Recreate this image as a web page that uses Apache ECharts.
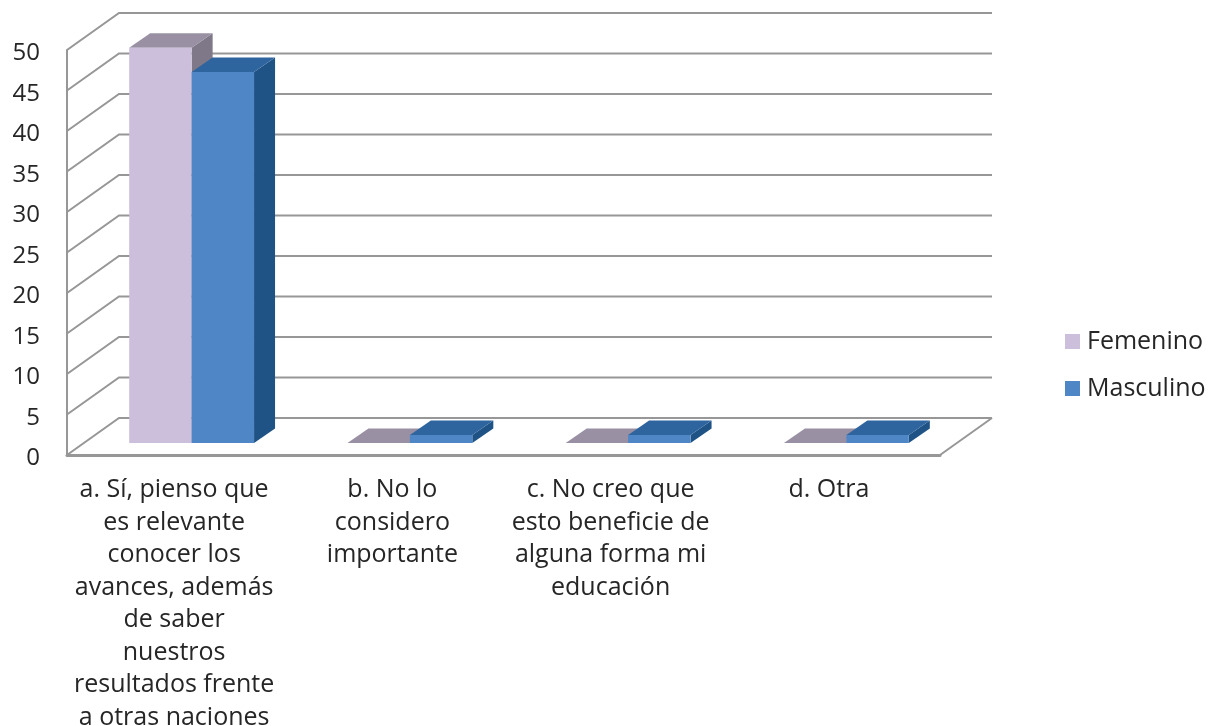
<!DOCTYPE html>
<html>
<head>
<meta charset="utf-8">
<style>
  html, body { margin: 0; padding: 0; background: #fff; }
  #main { width: 1209px; height: 726px; }
</style>
<script src="https://cdn.jsdelivr.net/npm/echarts@6/dist/echarts.min.js"></script>
</head>
<body>
<div id="main"></div>
<script>
var categories = [
  'a. Sí, pienso que\nes relevante\nconocer los\navances, además\nde saber\nnuestros\nresultados frente\na otras naciones',
  'b. No lo\nconsidero\nimportante',
  'c. No creo que\nesto beneficie de\nalguna forma mi\neducación',
  'd. Otra'
];
var femenino = [48.8, 0, 0, 0];
var masculino = [45.8, 1, 1, 1];
var yTicks = [0, 5, 10, 15, 20, 25, 30, 35, 40, 45, 50];

var fontName = '"Open Sans", "Noto Sans", sans-serif';
var textColor = '#262626';
var lineColor = '#979797';

// depth of the fake 3d box, in pixels
var wallDx = 52, wallDy = -37;
var barDx = 21, barDy = -14.5;
var floorDx = 15.5, floorDy = -12;

var dom = document.getElementById('main');
var myChart = echarts.init(dom, null, { renderer: 'canvas' });

function renderWall(params, api) {
  var p = api.coord([0, api.value(0)]);
  var band = api.size([1, 0])[0];
  var left = p[0] - band / 2;
  var right = left + band * categories.length;
  var lineStyle = { stroke: lineColor, lineWidth: 2, fill: null };
  var children = [
    { type: 'polyline', shape: { points: [[left, p[1]], [left + wallDx, p[1] + wallDy], [right + wallDx, p[1] + wallDy]] }, style: lineStyle }
  ];
  if (api.value(0) === 0) {
    children.push({ type: 'line', shape: { x1: right, y1: p[1], x2: right + wallDx, y2: p[1] + wallDy }, style: lineStyle });
  }
  return { type: 'group', children: children };
}

function barRenderer(side, front, top, dark) {
  return function (params, api) {
    var idx = api.value(0);
    var band = api.size([1, 0])[0];
    var w = band * 0.286;
    var base = api.coord([idx, 0]);
    var head = api.coord([idx, api.value(1)]);
    var x0 = base[0] + floorDx + (side === 0 ? -w : 0);
    var x1 = x0 + w;
    var y0 = base[1] + floorDy;
    var y1 = head[1] + floorDy;
    return {
      type: 'group',
      children: [
        { type: 'polygon', shape: { points: [[x1, y1], [x1 + barDx, y1 + barDy], [x1 + barDx, y0 + barDy], [x1, y0]] }, style: { fill: dark } },
        { type: 'polygon', shape: { points: [[x0, y1], [x1, y1], [x1 + barDx, y1 + barDy], [x0 + barDx, y1 + barDy]] }, style: { fill: top } },
        { type: 'rect', shape: { x: x0, y: y1, width: w, height: y0 - y1 }, style: { fill: front } }
      ]
    };
  };
}

var option = {
  animation: false,
  backgroundColor: '#fff',
  grid: { left: 67, right: 269, top: 50, bottom: 271, outerBoundsMode: 'none' },
  legend: {
    orient: 'vertical',
    left: 1060,
    top: 324,
    itemWidth: 15,
    itemHeight: 15,
    itemGap: 22,
    icon: 'rect',
    data: ['Femenino', 'Masculino'],
    textStyle: { fontFamily: fontName, fontSize: 25, color: textColor, padding: [0, 0, 0, 2] }
  },
  xAxis: {
    type: 'category',
    data: categories,
    axisTick: { show: false },
    axisLine: { lineStyle: { color: lineColor, width: 3 } },
    axisLabel: {
      interval: 0,
      margin: 19,
      fontFamily: fontName,
      fontSize: 25,
      lineHeight: 32.5,
      color: textColor,
      align: 'center',
      padding: [0, 4, 0, 0]
    }
  },
  yAxis: {
    type: 'value',
    min: 0,
    max: 50,
    interval: 5,
    splitLine: { show: false },
    axisTick: { show: false },
    axisLine: { show: true, lineStyle: { color: lineColor, width: 2 } },
    axisLabel: {
      margin: 27,
      formatter: '{n|{value}}',
      rich: { n: { fontFamily: fontName, fontSize: 24, color: textColor, padding: [7, 0, 0, 0] } }
    }
  },
  series: [
    {
      name: 'walls',
      type: 'custom',
      silent: true,
      renderItem: renderWall,
      data: yTicks.map(function (t) { return [t]; }),
      encode: { y: 0 }
    },
    {
      name: 'Femenino',
      type: 'custom',
      renderItem: barRenderer(0, '#cbbfdb', '#9a90a4', '#7f7888'),
      itemStyle: { color: '#cbbfdb' },
      data: femenino.map(function (v, i) { return [i, v]; }),
      encode: { x: 0, y: 1 }
    },
    {
      name: 'Masculino',
      type: 'custom',
      renderItem: barRenderer(1, '#4f86c6', '#2f659f', '#1f5285'),
      itemStyle: { color: '#4f86c6' },
      data: masculino.map(function (v, i) { return [i, v]; }),
      encode: { x: 0, y: 1 }
    }
  ]
};

myChart.setOption(option);
window.addEventListener('resize', myChart.resize);
</script>
</body>
</html>
